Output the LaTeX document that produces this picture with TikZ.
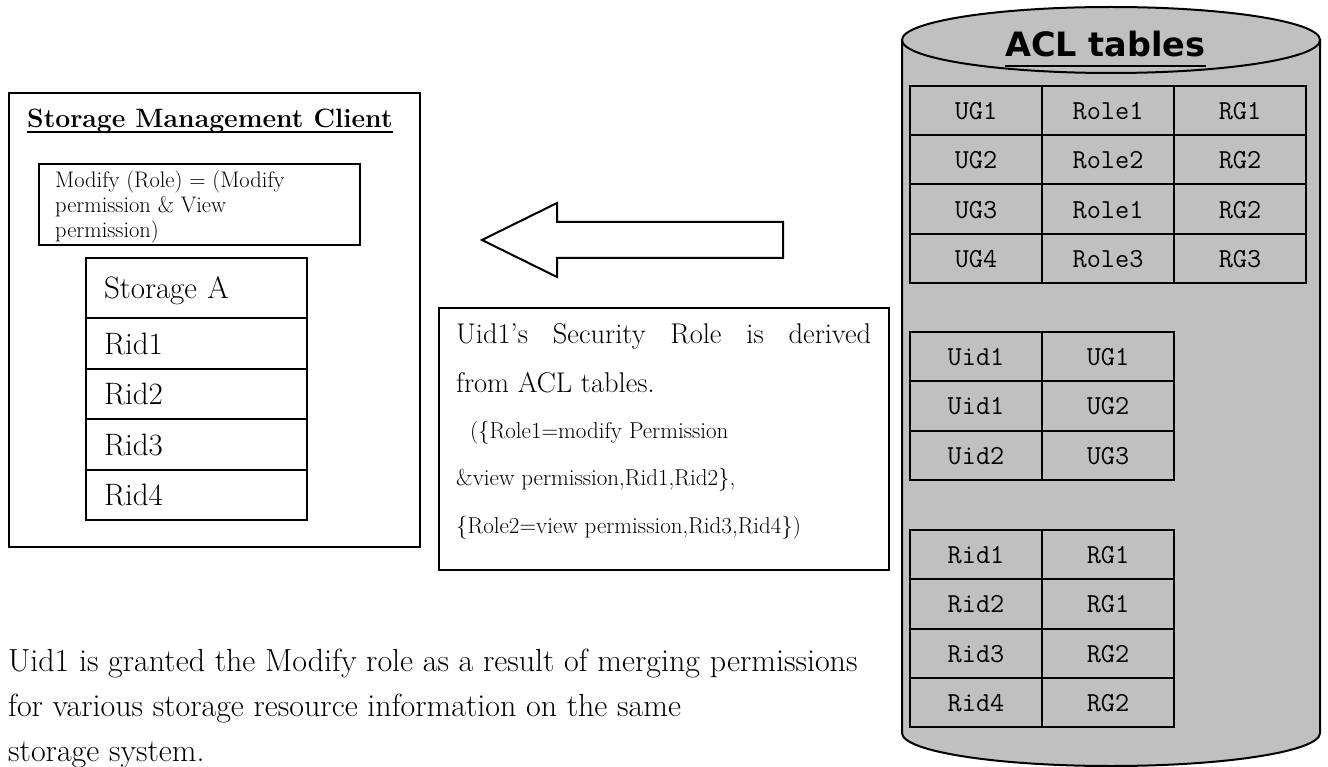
\documentclass[tikz,border=0pt]{standalone}
\usepackage{fontspec}
\usepackage{graphicx}
\newfontfamily\aclfont{DejaVu Sans}
\definecolor{cylgray}{HTML}{C0C0C0}
\begin{document}
\begin{tikzpicture}[x=1pt,y=-1pt,line join=miter,
  box/.style={draw=black,line width=2pt},
  stcell/.style={draw=black,line width=2pt,anchor=north west,minimum width=221pt,
    inner xsep=18pt,inner ysep=0pt,text width=185pt,align=left,
    text height=22pt,text depth=0pt,font=\fontsize{31}{31}\selectfont},
  tcell/.style={draw=black,line width=2pt,anchor=north west,minimum width=132pt,
    inner sep=0pt,text height=18pt,text depth=0pt,font=\fontsize{27.5}{27.5}\ttfamily},
  txt/.style={inner sep=0pt,anchor=base west}]
\useasboundingbox (0,0) rectangle (1328,767);

% ---------- left client box ----------
\node[box,anchor=north west,minimum width=411pt,minimum height=454pt,inner sep=0pt] (client) at (8,92) {};
\node[txt,font=\fontsize{26.5}{26.5}\bfseries\selectfont] (title) at (27,128) {Storage Management Client};
\draw[line width=1.5pt] ([yshift=-4pt]title.base west) -- ([yshift=-4pt]title.base east);

\node[box,anchor=north west,minimum width=321pt,minimum height=81pt,inner sep=0pt] (modify) at (38,163) {};
\begin{scope}
\clip (modify.north west) rectangle (modify.south east);
\node[txt,font=\fontsize{22.5}{22.5}\selectfont] (m1) at (55,188) {Modify (Role) = (Modify};
\node[txt,font=\fontsize{22.5}{22.5}\selectfont] (m2) at (55,213) {permission \& View};
\node[txt,font=\fontsize{22.5}{22.5}\selectfont] (m3) at (55,238) {permission)};
\end{scope}

\node[stcell,minimum height=60pt] (sa) at (85,257) {Storage A};
\node[stcell,minimum height=50.5pt] (r1) at (85,317) {Rid1};
\node[stcell,minimum height=50.5pt] (r2) at (85,367.5) {Rid2};
\node[stcell,minimum height=50.5pt] (r3) at (85,418) {Rid3};
\node[stcell,minimum height=50.5pt] (r4) at (85,468.5) {Rid4};

% ---------- block arrow ----------
\draw[line width=2pt,fill=white] (783,222) -- (557,222) -- (557,203) -- (482,240)
  -- (557,277) -- (557,258) -- (783,258) -- cycle;

% ---------- derivation box ----------
\node[box,anchor=north west,minimum width=450pt,minimum height=262pt,inner sep=0pt] (derive) at (438,307) {};
\node[txt,font=\fontsize{28.5}{28.5}\selectfont] (d1) at (456,343) {\makebox[415pt][s]{Uid1’s Security Role is derived}};
\node[txt,font=\fontsize{28.5}{28.5}\selectfont] (d2) at (456,392) {from ACL tables.};
\node[txt,font=\fontsize{23}{23}\selectfont] (d3) at (456,438) {\ \ (\{Role1=modify Permission};
\node[txt,font=\fontsize{23}{23}\selectfont] (d4) at (456,485) {\&view permission,Rid1,Rid2\},};
\node[txt,font=\fontsize{23}{23}\selectfont] (d5) at (456,533) {\{Role2=view permission,Rid3,Rid4\})};

% ---------- bottom note ----------
\node[txt,font=\fontsize{32}{32}\selectfont] (n1) at (8,671) {Uid1 is granted the Modify role as a result of merging permissions};
\node[txt,font=\fontsize{32}{32}\selectfont] (n2) at (8,716) {for various storage resource information on the same};
\node[txt,font=\fontsize{32}{32}\selectfont] (n3) at (8,761) {storage system.};

% ---------- cylinder ----------
\path[draw=black,line width=2pt,fill=cylgray] (902,40) -- (902,733)
  arc[start angle=180,end angle=360,x radius=209pt,y radius=33pt] -- (1320,40) -- cycle;
\draw[line width=2pt,fill=cylgray] (1111,40) ellipse[x radius=209pt,y radius=33pt];
\node[txt,anchor=base,font=\fontsize{33.5}{33.5}\aclfont\bfseries] (acl) at (1105.5,57) {ACL tables};
\draw[line width=2pt] ([yshift=-9pt]acl.base west) -- ([yshift=-9pt]acl.base east);

% table 1
\foreach \r/\a/\b/\c [count=\i from 0] in {1/UG1/Role1/RG1,2/UG2/Role2/RG2,3/UG3/Role1/RG2,4/UG4/Role3/RG3}{
  \node[tcell,minimum height=49.25pt] (ta\r a) at (909,85+49.25*\i) {\a};
  \node[tcell,minimum height=49.25pt] (ta\r b) at (1041,85+49.25*\i) {\b};
  \node[tcell,minimum height=49.25pt] (ta\r c) at (1173,85+49.25*\i) {\c};
}
% table 2
\foreach \r/\a/\b [count=\i from 0] in {1/Uid1/UG1,2/Uid1/UG2,3/Uid2/UG3}{
  \node[tcell,minimum height=49.33pt] (tb\r a) at (909,331+49.33*\i) {\a};
  \node[tcell,minimum height=49.33pt] (tb\r b) at (1041,331+49.33*\i) {\b};
}
% table 3
\foreach \r/\a/\b [count=\i from 0] in {1/Rid1/RG1,2/Rid2/RG1,3/Rid3/RG2,4/Rid4/RG2}{
  \node[tcell,minimum height=49.25pt] (tc\r a) at (909,529+49.25*\i) {\a};
  \node[tcell,minimum height=49.25pt] (tc\r b) at (1041,529+49.25*\i) {\b};
}
\end{tikzpicture}
\end{document}
